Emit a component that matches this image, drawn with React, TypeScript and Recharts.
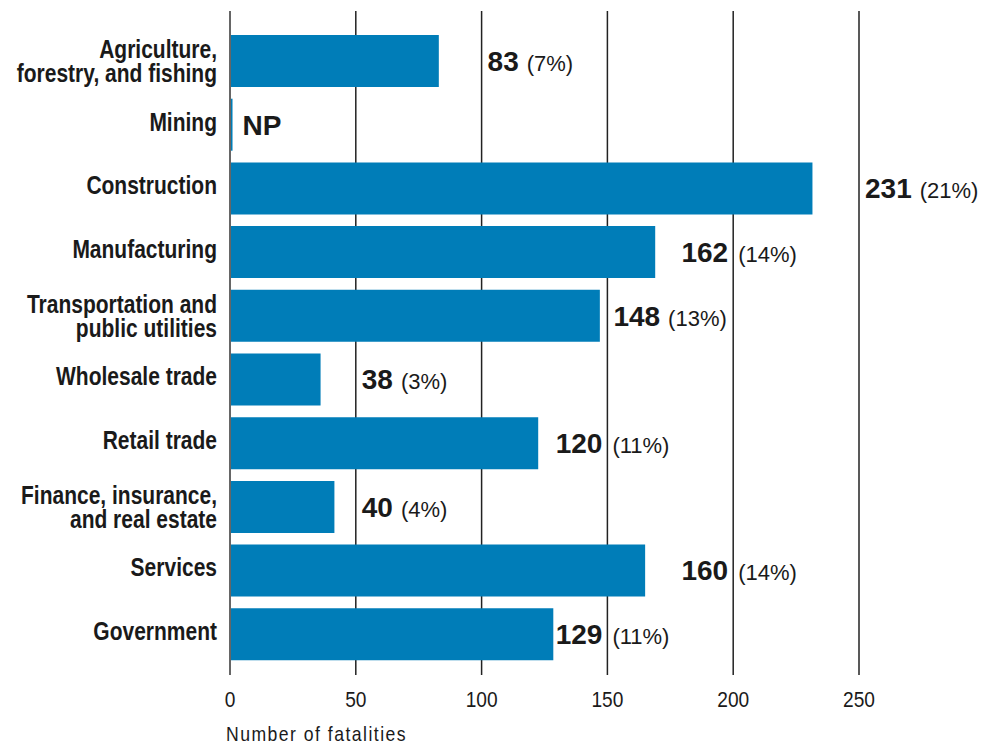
import React from 'react';
import { BarChart, Bar, XAxis, YAxis, CartesianGrid, LabelList } from 'recharts';

const categories = [
  'Agriculture,\nforestry, and fishing',
  'Mining',
  'Construction',
  'Manufacturing',
  'Transportation and\npublic utilities',
  'Wholesale trade',
  'Retail trade',
  'Finance, insurance,\nand real estate',
  'Services',
  'Government',
];
// bar lengths as drawn
const barLengths = [83, 1, 231.5, 169, 147, 36, 122.5, 41.5, 165, 128.5];
// printed counts (null = NP, not publishable)
const labelCounts: (number | null)[] = [83, null, 231, 162, 148, 38, 120, 40, 160, 129];
const labelShares: (number | null)[] = [7, null, 21, 14, 13, 3, 11, 4, 14, 11];
const xTicks = [0, 50, 100, 150, 200, 250];
const xTitle = 'Number of fatalities';

const rows = categories.map((name, i) => ({ name, value: barLengths[i] }));

const SANS = "'Liberation Sans', Arial, Helvetica, sans-serif";
const TEXT = '#1a1a1a';

const CatTick = (props: any) => {
  const { x, y, payload } = props;
  const lines = String(payload.value).split('\n');
  const n = lines.length;
  const first = y + 6 - (n - 1) * 9;
  return (
    <g transform={`translate(${x},0) scale(0.84,1)`}>
      <text textAnchor="end" fontFamily={SANS} fontWeight={700} fontSize={25} fill={TEXT}>
        {lines.map((l, i) => (
          <tspan key={i} x={0} y={first + i * 24}>
            {l}
          </tspan>
        ))}
      </text>
    </g>
  );
};

const NumTick = (props: any) => {
  const { x, y, payload } = props;
  return (
    <g transform={`translate(${x},0) scale(0.87,1)`}>
      <text x={0} y={y + 32} textAnchor="middle" fontFamily={SANS} fontSize={22} fill={TEXT}>
        {payload.value}
      </text>
    </g>
  );
};

const ValueLabel = (props: any) => {
  const { x, y, width, height, index } = props;
  const cy = y + height / 2;
  const baseline = cy + 9.8;
  const end = x + width;
  const count = labelCounts[index];
  const share = labelShares[index];
  if (count == null) {
    return (
      <text x={end + 10} y={baseline} fontFamily={SANS} fontWeight={700} fontSize={28} fill={TEXT}>
        NP
      </text>
    );
  }
  const unit = width / barLengths[index];
  const nextTick = xTicks.find((t) => x + t * unit > end + 0.5) ?? xTicks[xTicks.length - 1];
  const gx = x + nextTick * unit;
  if (gx - end >= 50) {
    return (
      <g>
        <text x={gx - 5} y={baseline} textAnchor="end" fontFamily={SANS} fontWeight={700} fontSize={28} fill={TEXT}>
          {count}
        </text>
        <text x={gx + 5} y={baseline} fontFamily={SANS} fontSize={22} fill={TEXT}>
          {`(${share}%)`}
        </text>
      </g>
    );
  }
  return (
    <text x={gx + 6} y={baseline} fontFamily={SANS} fill={TEXT}>
      <tspan fontWeight={700} fontSize={28}>
        {count}
      </tspan>
      <tspan dx={8} fontSize={22}>
        {`(${share}%)`}
      </tspan>
    </text>
  );
};

const TitleLabel = (props: any) => {
  const vb = props.viewBox || {};
  return (
    <g transform={`translate(${vb.x - 4},0) scale(0.86,1)`}>
      <text x={0} y={vb.y + 66} fontFamily={SANS} fontSize={20.5} letterSpacing={1.7} fill={TEXT}>
        {xTitle}
      </text>
    </g>
  );
};

export default function App() {
  return (
    <div style={{ position: 'absolute', left: 0, top: 0, width: 981, height: 744, background: '#fff' }}>
      <BarChart
        width={981}
        height={744}
        data={rows}
        layout="vertical"
        margin={{ top: 11, right: 122, bottom: 0, left: 0 }}
        barSize={52}
      >
        <CartesianGrid horizontal={false} vertical={true} stroke="#222" strokeWidth={1.5} />
        <XAxis
          type="number"
          domain={[0, 250]}
          ticks={xTicks}
          axisLine={false}
          tickLine={false}
          tickSize={0}
          tickMargin={0}
          height={69}
          tick={<NumTick />}
          interval={0}
          label={{ content: <TitleLabel /> } as any}
        />
        <YAxis
          type="category"
          dataKey="name"
          width={230}
          tickLine={false}
          tickSize={6}
          tickMargin={7}
          axisLine={{ stroke: '#666', strokeWidth: 2 }}
          padding={{ top: 18, bottom: 9 }}
          tick={<CatTick />}
          interval={0}
        />
        <Bar dataKey="value" fill="#007DB8" isAnimationActive={false}>
          <LabelList dataKey="value" content={<ValueLabel />} />
        </Bar>
      </BarChart>
    </div>
  );
}
